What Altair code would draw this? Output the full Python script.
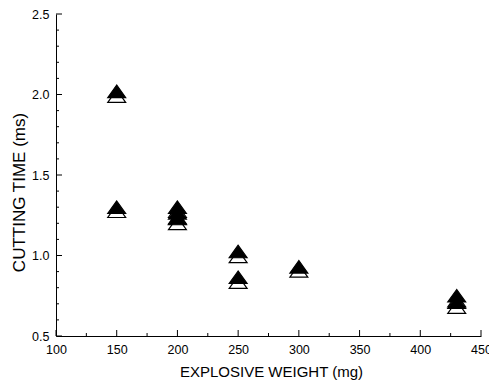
import altair as alt
import pandas as pd

# Data
weight = [150, 150, 200, 200, 200, 250, 250, 300, 430, 430]
time_filled = [2.02, 1.30, 1.30, 1.265, 1.23, 1.025, 0.865, 0.93, 0.75, 0.71]
time_hollow = [1.99, 1.275, 1.275, 1.235, 1.20, 0.995, 0.835, 0.905, 0.72, 0.68]

x_major = [100, 150, 200, 250, 300, 350, 400, 450]
x_minor = [125, 175, 225, 275, 325, 375, 425]
y_major = [0.5, 1.0, 1.5, 2.0, 2.5]
y_minor = [0.6, 0.7, 0.8, 0.9, 1.1, 1.2, 1.3, 1.4, 1.6, 1.7, 1.8, 1.9, 2.1, 2.2, 2.3, 2.4]

rows = []
k = 0
for w, f, h in zip(weight, time_filled, time_hollow):
    rows.append({"weight": w, "time": h, "series": "hollow", "idx": k}); k += 1
    rows.append({"weight": w, "time": f, "series": "filled", "idx": k}); k += 1
pts = pd.DataFrame(rows)

FONT = "Liberation Sans"
W, H = 425, 322

xscale = alt.Scale(domain=[100, 450], nice=False, zero=False)
yscale = alt.Scale(domain=[0.5, 2.5], nice=False, zero=False)

xaxis = alt.Axis(values=x_major, format="d", ticks=False, tickSize=0,
                 grid=False, domainColor="black", domainWidth=1,
                 labelFont=FONT, labelFontSize=12.5, labelColor="black",
                 labelPadding=7, labelFlush=False, labelOverlap=False,
                 titleFont=FONT, titleFontSize=15, titleFontWeight="normal",
                 titleColor="black", titlePadding=9, titleX=215)
yaxis = alt.Axis(values=y_major, format=".1f", ticks=False, tickSize=0,
                 grid=False, domainColor="black", domainWidth=1,
                 labelFont=FONT, labelFontSize=12.5, labelColor="black",
                 labelPadding=7, labelFlush=False, labelOverlap=False,
                 titleFont=FONT, titleFontSize=17, titleFontWeight="normal",
                 titleColor="black", titlePadding=3, titleY=178)
XT = "EXPLOSIVE WEIGHT (mg)"
YT = "CUTTING TIME (ms)"

points = alt.Chart(pts).mark_point(
    filled=True, opacity=1, stroke="black", strokeWidth=1.2,
    shape="M0,-0.7L-1,0.7L1,0.7Z", size=320
).encode(
    x=alt.X("weight:Q", scale=xscale, title=XT, axis=xaxis),
    y=alt.Y("time:Q", scale=yscale, title=YT, axis=yaxis),
    fill=alt.Fill("series:N", scale=alt.Scale(domain=["filled", "hollow"], range=["black", "white"]), legend=None),
    order=alt.Order("idx:Q"),
)

xt_major = alt.Chart(pd.DataFrame({"weight": x_major})).mark_rule(color="black", strokeWidth=1).encode(
    x=alt.X("weight:Q", scale=xscale, title=XT, axis=xaxis), y=alt.value(H), y2=alt.value(H - 6))
xt_minor = alt.Chart(pd.DataFrame({"weight": x_minor})).mark_rule(color="black", strokeWidth=1).encode(
    x=alt.X("weight:Q", scale=xscale, title=XT, axis=xaxis), y=alt.value(H), y2=alt.value(H - 3))
yt_major = alt.Chart(pd.DataFrame({"time": y_major})).mark_rule(color="black", strokeWidth=1).encode(
    y=alt.Y("time:Q", scale=yscale, title=YT, axis=yaxis), x=alt.value(0), x2=alt.value(6))
yt_minor = alt.Chart(pd.DataFrame({"time": y_minor})).mark_rule(color="black", strokeWidth=1).encode(
    y=alt.Y("time:Q", scale=yscale, title=YT, axis=yaxis), x=alt.value(0), x2=alt.value(3))

chart = alt.layer(points, xt_major, xt_minor, yt_major, yt_minor).properties(
    width=W, height=H,
    autosize=alt.AutoSizeParams(type="none"),
    padding={"left": 56, "top": 14, "right": 8, "bottom": 48},
    background="white",
).configure_view(stroke=None)

chart.save("out.html", embed_options={"renderer": "svg", "actions": False})
